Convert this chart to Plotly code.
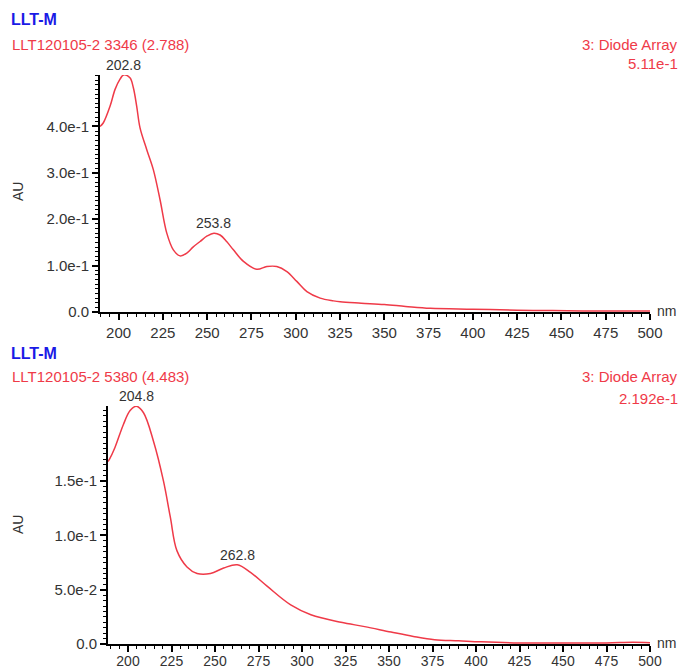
import plotly.graph_objects as go

W, H = 683, 670

# ---------------- data ----------------
top_wl = [189.5, 191.4, 195.2, 198.0, 200.8, 202.8, 206.4, 208.3, 210.2, 212.1, 215.9, 219.6,
          223.4, 227.2, 230.9, 234.7, 238.5, 242.0, 246.0, 250.0, 253.8, 257.3, 261.0, 264.8,
          270.5, 278.0, 283.7, 289.3, 295.0, 300.6, 306.3, 313.8, 321.3, 325.1, 337.0, 350.0,
          362.0, 376.0, 400.0, 425.0, 445.0, 475.0, 500.0]
top_au = [0.400, 0.408, 0.444, 0.480, 0.502, 0.511, 0.505, 0.484, 0.444, 0.397, 0.350, 0.307,
          0.242, 0.170, 0.134, 0.121, 0.127, 0.140, 0.152, 0.164, 0.170, 0.166, 0.152, 0.134,
          0.109, 0.092, 0.098, 0.098, 0.087, 0.066, 0.044, 0.030, 0.024, 0.022, 0.019, 0.016,
          0.012, 0.008, 0.006, 0.004, 0.003, 0.002, 0.002]

bot_wl = [188.5, 189.3, 192.5, 197.3, 201.2, 204.8, 208.9, 214.6, 220.4, 224.3, 228.1, 233.9,
          239.7, 247.4, 255.0, 262.8, 270.4, 280.1, 293.5, 305.1, 322.4, 336.0, 351.2, 364.0,
          376.2, 390.0, 403.0, 425.0, 450.0, 475.0, 490.0, 500.0]
bot_au = [0.168, 0.170, 0.181, 0.202, 0.215, 0.219, 0.213, 0.187, 0.150, 0.117, 0.086, 0.071,
          0.065, 0.065, 0.070, 0.073, 0.066, 0.053, 0.036, 0.027, 0.020, 0.016, 0.011, 0.007,
          0.004, 0.003, 0.002, 0.001, 0.001, 0.001, 0.0015, 0.0012]

top_peaks_wl = [202.8, 253.8]
top_peaks_au = [0.511, 0.170]
bot_peaks_wl = [204.8, 262.8]
bot_peaks_au = [0.219, 0.073]

x_ticks = [200, 225, 250, 275, 300, 325, 350, 375, 400, 425, 450, 475, 500]
top_yticks = [0.0, 0.1, 0.2, 0.3, 0.4]
top_ytext = ["0.0", "1.0e-1", "2.0e-1", "3.0e-1", "4.0e-1"]
bot_yticks = [0.0, 0.05, 0.10, 0.15]
bot_ytext = ["0.0", "5.0e-2", "1.0e-1", "1.5e-1"]

top_max_label = "5.11e-1"
bot_max_label = "2.192e-1"
top_sample = "LLT120105-2 3346 (2.788)"
bot_sample = "LLT120105-2 5380 (4.483)"

# ---------------- style ----------------
RED = "#ef3a48"
BLUE = "#1a1ae6"
GREY = "#333333"
FONT = "Liberation Sans, Arial, sans-serif"


def px(x):
    return x / W


def py(y):
    return 1 - y / H


fig = go.Figure()
fig.add_trace(go.Scatter(x=top_wl, y=top_au, mode="lines", line=dict(color=RED, width=1.5),
                         xaxis="x", yaxis="y", showlegend=False, line_shape="spline"))
fig.add_trace(go.Scatter(x=bot_wl, y=bot_au, mode="lines", line=dict(color=RED, width=1.5),
                         xaxis="x2", yaxis="y2", showlegend=False, line_shape="spline"))


def xaxis_cfg(domain, anchor, rng, fsize, standoff):
    return dict(domain=domain, anchor=anchor, range=rng, showline=True, linecolor="black",
                linewidth=2, ticks="outside", ticklen=6, tickwidth=1.5, tickcolor="black",
                tickvals=x_ticks, showgrid=False, zeroline=False, automargin=False,
                ticklabelstandoff=standoff,
                tickfont=dict(family=FONT, size=fsize, color=GREY),
                minor=dict(dtick=5, tick0=200, ticks="outside", ticklen=3, tickwidth=1.2,
                           tickcolor="black", showgrid=False))


def yaxis_cfg(domain, anchor, rng, vals, text, mdt):
    return dict(domain=domain, anchor=anchor, range=rng, showline=True, linecolor="black",
                linewidth=2, ticks="outside", ticklen=6, tickwidth=1.5, tickcolor="black",
                tickvals=vals, ticktext=text, showgrid=False, zeroline=False, automargin=False,
                tickfont=dict(family=FONT, size=15, color=GREY),
                minor=dict(dtick=mdt, tick0=0, ticks="outside", ticklen=3, tickwidth=1.2,
                           tickcolor="black", showgrid=False))


fig.update_layout(
    width=W, height=H,
    margin=dict(l=0, r=0, t=0, b=0, pad=0, autoexpand=False),
    paper_bgcolor="white", plot_bgcolor="white",
    font=dict(family=FONT, color=GREY),
    xaxis=xaxis_cfg([px(100), px(650)], "y", [189.5, 500], 15, 0),
    yaxis=yaxis_cfg([py(312), py(75)], "x", [0, 0.511], top_yticks, top_ytext, 0.01),
    xaxis2=xaxis_cfg([px(108), px(650)], "y2", [188.5, 500], 14, -3),
    yaxis2=yaxis_cfg([py(644), py(406)], "x2", [0, 0.2192], bot_yticks, bot_ytext, 0.005),
)

ann = []


def txt(x, y, s, color, size=15, xanchor="left", bold=False, angle=0):
    ann.append(dict(x=px(x), y=py(y), xref="paper", yref="paper", text=("<b>%s</b>" % s) if bold else s,
                    showarrow=False, xanchor=xanchor, yanchor="middle", textangle=angle,
                    font=dict(family=FONT, size=size, color=color)))


# headers
txt(9, 20, "LLT-M", BLUE, size=16, bold=True)
txt(10, 45, top_sample, RED)
txt(680, 45, "3: Diode Array", RED, xanchor="right")
txt(680, 64, top_max_label, RED, xanchor="right")

txt(9, 353, "LLT-M", BLUE, size=16, bold=True)
txt(10, 376, bot_sample, RED)
txt(680, 376, "3: Diode Array", RED, xanchor="right")
txt(680, 398, bot_max_label, RED, xanchor="right")

# axis titles
txt(18, 192, "AU", GREY, size=14, xanchor="center", angle=-90)
txt(18, 525, "AU", GREY, size=14, xanchor="center", angle=-90)
txt(655, 311, "nm", GREY, size=14)
txt(655, 643, "nm", GREY, size=14)

# peak labels
for wl, au in zip(top_peaks_wl, top_peaks_au):
    ann.append(dict(x=wl, y=au, xref="x", yref="y", text="%.1f" % wl, showarrow=False,
                    xanchor="center", yanchor="bottom", yshift=0,
                    font=dict(family=FONT, size=14, color=GREY)))
for wl, au in zip(bot_peaks_wl, bot_peaks_au):
    ann.append(dict(x=wl, y=au, xref="x2", yref="y2", text="%.1f" % wl, showarrow=False,
                    xanchor="center", yanchor="bottom", yshift=0,
                    font=dict(family=FONT, size=14, color=GREY)))

fig.update_layout(annotations=ann)

post = "document.documentElement.style.margin='0px';document.body.style.margin='0px';document.body.style.overflow='hidden';"
fig.write_html("out.html", config={"displayModeBar": False}, post_script=post)
